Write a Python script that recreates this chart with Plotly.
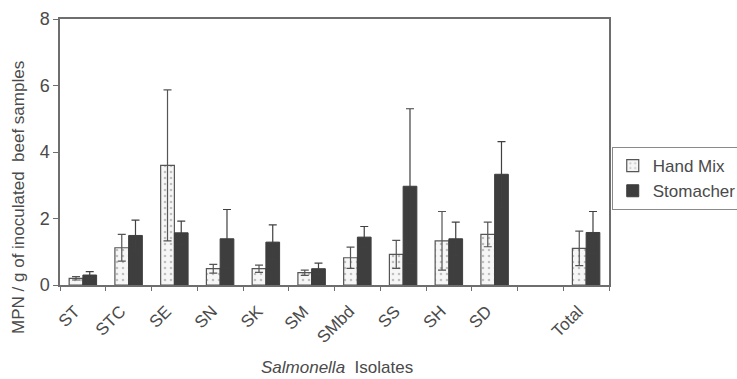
import plotly.graph_objects as go

# Isolates (an empty slot separates the individual isolates from the total)
categories = ["ST", "STC", "SE", "SN", "SK", "SM", "SMbd", "SS", "SH", "SD", " ", "Total"]

# Mean MPN / g and standard deviation for each extraction method
hand_mix = [0.20, 1.12, 3.60, 0.49, 0.49, 0.37, 0.82, 0.92, 1.33, 1.52, None, 1.10]
hand_mix_sd = [0.05, 0.40, 2.27, 0.13, 0.11, 0.08, 0.32, 0.42, 0.88, 0.37, None, 0.52]
stomacher = [0.30, 1.49, 1.57, 1.39, 1.29, 0.49, 1.44, 2.97, 1.39, 3.33, None, 1.58]
stomacher_sd = [0.10, 0.46, 0.35, 0.88, 0.52, 0.17, 0.32, 2.33, 0.50, 0.98, None, 0.63]

ink = "#4a4a4a"
line_grey = "#6e6e6e"
font_family = "Liberation Sans, Arial, sans-serif"

fig = go.Figure()
fig.add_trace(go.Bar(
    name="Hand Mix",
    x=categories,
    y=hand_mix,
    marker=dict(
        color="#f6f6f6",
        line=dict(color="#555555", width=1.2),
        pattern=dict(shape=".", fgcolor="#888888", bgcolor="#f6f6f6", size=6, solidity=0.15),
    ),
    error_y=dict(type="data", array=hand_mix_sd, visible=True,
                 color="#555555", thickness=1.2, width=4),
))
fig.add_trace(go.Bar(
    name="Stomacher",
    x=categories,
    y=stomacher,
    marker=dict(color="#3e3e3e", line=dict(color="#3e3e3e", width=1)),
    error_y=dict(type="data", array=stomacher_sd, visible=True,
                 color="#404040", thickness=1.2, width=4),
))

fig.update_layout(
    width=737,
    height=379,
    margin=dict(l=60, r=128, t=19, b=94, autoexpand=False),
    paper_bgcolor="white",
    plot_bgcolor="white",
    barmode="group",
    bargap=0.4,
    bargroupgap=0,
    font=dict(family=font_family, color=ink),
    showlegend=True,
    legend=dict(
        x=1.005, xanchor="left",
        y=0.40, yanchor="middle",
        bordercolor="#8a8a8a", borderwidth=1,
        bgcolor="white",
        font=dict(size=17, color=ink),
        itemwidth=30,
        tracegroupgap=0,
    ),
)

fig.update_xaxes(
    type="category",
    categoryorder="array",
    categoryarray=categories,
    tickangle=-45,
    tickfont=dict(size=17, color=ink),
    tickson="boundaries",
    ticks="outside",
    ticklen=4,
    tickcolor=line_grey,
    ticklabelstandoff=8,
    ticklabelshift=-8,
    showline=True,
    linecolor=line_grey,
    linewidth=1.5,
    mirror=True,
    showgrid=False,
)

fig.update_yaxes(
    range=[0, 8],
    tickvals=[0, 2, 4, 6, 8],
    tickfont=dict(size=18, color=ink),
    ticks="outside",
    ticklen=5,
    tickcolor=line_grey,
    showline=True,
    linecolor=line_grey,
    linewidth=1.5,
    mirror=True,
    showgrid=False,
    zeroline=False,
)

# Axis titles
fig.add_annotation(
    text="MPN / g of inoculated  beef samples",
    textangle=-90,
    xref="paper", yref="paper",
    x=-0.077, y=0.33,
    xanchor="center", yanchor="middle",
    showarrow=False,
    font=dict(size=17, color=ink),
)
fig.add_annotation(
    text="<i>Salmonella</i>  Isolates",
    xref="paper", yref="paper",
    x=0.505, y=-0.312,
    xanchor="center", yanchor="middle",
    showarrow=False,
    font=dict(size=17, color=ink),
)

fig.write_html("out.html")
